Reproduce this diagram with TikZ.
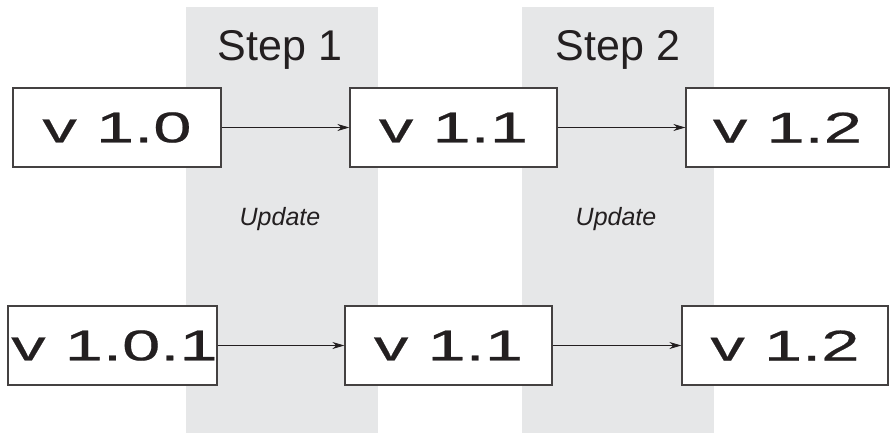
\documentclass[tikz,border=0pt]{standalone}
\usepackage{fontspec}
\setmainfont{Liberation Sans}
\newfontfamily\verfont[FakeStretch=1.6,FakeBold=0.5]{Liberation Sans}
\usetikzlibrary{arrows.meta}
\definecolor{band}{RGB}{230,231,232}
\definecolor{ink}{RGB}{35,31,32}

\begin{document}
\begin{tikzpicture}[x=1pt,y=-1pt,
  ver/.style={draw=ink!85, line width=1.3pt, fill=white, inner sep=0pt,
    minimum height=79pt, text=ink, font=\verfont\fontsize{43}{48}\selectfont},
  steplabel/.style={anchor=base, text=ink, font=\fontsize{43}{50}\selectfont},
  updlabel/.style={anchor=base, text=ink, font=\itshape\fontsize{25}{30}\selectfont},
  upd/.style={draw=ink, line width=0.9pt, -{Stealth[length=12pt,width=7pt]}}]
\useasboundingbox (0,0) rectangle (890,433);
% grey bands behind the two steps
\fill [band] (186,7) rectangle (378,433);
\fill [band] (522,7) rectangle (714,433);
\node [steplabel] (s1) at (280,61) {Step 1};
\node [steplabel] (s2) at (618,61) {Step 2};
\node [updlabel] (u1) at (280,225) {Update};
\node [updlabel] (u2) at (616,225) {Update};
% first row
\node [ver, minimum width=208pt] (a0) at (117,127.5) {v 1.0};
\node [ver, minimum width=207pt] (a1) at (453.5,127.5) {v 1.1};
\node [ver, minimum width=203pt] (a2) at (787.5,127.5) {v 1.2};
\draw [upd] (a0) -- (a1);
\draw [upd] (a1) -- (a2);
% second row
\node [ver, minimum width=209pt] (b0) at (112.5,345.5) {\makebox[0pt]{\hspace{4pt}v 1.0.1}};
\node [ver, minimum width=207pt] (b1) at (448.5,345.5) {v 1.1};
\node [ver, minimum width=206pt] (b2) at (785,345.5) {v 1.2};
\draw [upd] (b0) -- (b1);
\draw [upd] (b1) -- (b2);
\end{tikzpicture}
\end{document}
